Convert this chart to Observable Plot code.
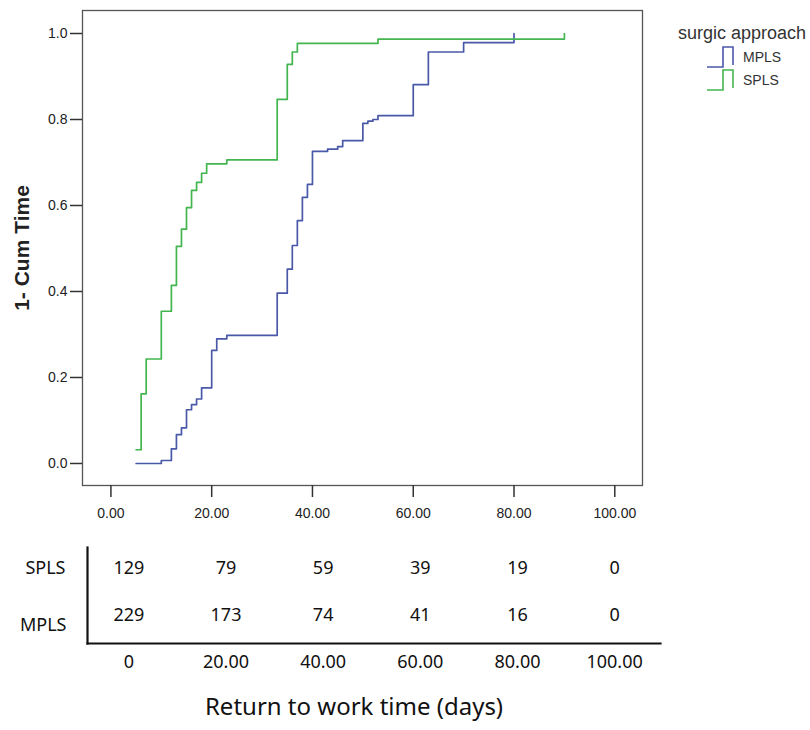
<!DOCTYPE html>
<html>
<head>
<meta charset="utf-8">
<script src="https://cdn.jsdelivr.net/npm/d3@7"></script>
<script src="https://cdn.jsdelivr.net/npm/@observablehq/plot@0.6"></script>
<style>
  body { margin: 0; background: #fff; }
  #wrap { position: relative; width: 810px; height: 730px; }
  #main, #table { display: block; }
  #legend { position: absolute; left: 640px; top: 0px; }
  #title { position: absolute; left: 0; top: 690px; width: 708px; text-align: center; font-family: "Noto Sans", "Open Sans", sans-serif; font-size: 24px; line-height: 32px; color: #111; }
</style>
</head>
<body>
<div id="wrap">
  <div id="main"></div>
  <div id="table"></div>
  <div id="legend"></div>
  <div id="title"></div>
</div>
<script>
// ---- data ----
const groups = ["MPLS", "SPLS"];
const colors = ["#4a58a8", "#43b54f"];

const mplsTime  = [5, 10, 12, 13, 14, 15, 16, 17, 18, 20, 21, 23, 33, 35, 36, 37, 38, 39, 40, 43, 45, 46, 50, 51, 52, 53, 60, 63, 70, 80];
const mplsValue = [0.0, 0.007, 0.034, 0.067, 0.083, 0.125, 0.137, 0.150, 0.176, 0.263, 0.290, 0.298, 0.396, 0.452, 0.507, 0.565, 0.619, 0.649, 0.726, 0.731, 0.737, 0.751, 0.791, 0.796, 0.800, 0.809, 0.881, 0.957, 0.979, 1.0];

const splsTime  = [5, 6, 7, 10, 12, 13, 14, 15, 16, 17, 18, 19, 23, 33, 35, 36, 37, 53, 90];
const splsValue = [0.032, 0.162, 0.243, 0.354, 0.414, 0.505, 0.545, 0.595, 0.635, 0.654, 0.675, 0.697, 0.706, 0.847, 0.928, 0.957, 0.977, 0.987, 0.987];

const censorGroup = ["SPLS"];
const censorTime  = [90];
const censorValue = [0.987];

const xTicks = [0, 20, 40, 60, 80, 100];
const yTicks = [0, 0.2, 0.4, 0.6, 0.8, 1.0];

const riskRowsOrder = ["SPLS", "MPLS"];
const riskTimes = [0, 20, 40, 60, 80, 100];
const splsRisk = [129, 79, 59, 39, 19, 0];
const mplsRisk = [229, 173, 74, 41, 16, 0];

const yTitle = "1- Cum Time";
const xTitle = "Return to work time (days)";
const legendTitle = "surgic approach";

// ---- build tables ----
const curves = [
  ...mplsTime.map((t, i) => ({group: "MPLS", time: t, value: mplsValue[i]})),
  ...splsTime.map((t, i) => ({group: "SPLS", time: t, value: splsValue[i]}))
];
const censors = censorTime.map((t, i) => ({group: censorGroup[i], time: t, value: censorValue[i]}));
const risk = [
  ...riskTimes.map((t, i) => ({group: "SPLS", time: t, n: splsRisk[i]})),
  ...riskTimes.map((t, i) => ({group: "MPLS", time: t, n: mplsRisk[i]}))
];

const main = Plot.plot({
  width: 810, height: 540,
  marginLeft: 82, marginRight: 168, marginTop: 10, marginBottom: 55,
  x: {domain: [-5.64, 105.5]},
  y: {domain: [-0.0512, 1.0535]},
  color: {domain: groups, range: colors},
  style: {fontFamily: "'Liberation Sans', Arial, sans-serif", fontSize: "14px", color: "#222", background: "#fff"},
  marks: [
    Plot.frame({stroke: "#555", strokeWidth: 1.3}),
    Plot.axisX({ticks: xTicks, tickSize: 12, tickPadding: 11, tickFormat: d => d.toFixed(2), label: null, stroke: "#333", strokeWidth: 1.5, fontSize: 14}),
    Plot.axisY({ticks: yTicks, tickSize: 12, tickPadding: 3, tickFormat: d => d.toFixed(1), label: null, stroke: "#333", strokeWidth: 1.5, fontSize: 14}),
    Plot.line(curves, {x: "time", y: "value", z: "group", stroke: "group", curve: "step-after", strokeWidth: 1.7}),
    Plot.ruleX(censors, {x: "time", y1: "value", y2: d => d.value + 0.013, stroke: "group", strokeWidth: 1.7}),
    Plot.text([yTitle], {frameAnchor: "left", textAnchor: "middle", rotate: -90, dx: -60, fontWeight: "bold", fontSize: 21, fill: "#222"})
  ]
});
document.getElementById("main").appendChild(main);

const table = Plot.plot({
  width: 810, height: 150,
  marginLeft: 87, marginRight: 150, marginTop: 7, marginBottom: 47,
  x: {domain: [-8.51, 109.44]},
  y: {type: "point", domain: riskRowsOrder, range: [27.8, 75], padding: 0, axis: null},
  style: {fontFamily: "'Noto Sans', 'Open Sans', sans-serif", fontSize: "18px", color: "#111", background: "#fff"},
  marks: [
    Plot.frame({anchor: "left", stroke: "#111", strokeWidth: 2.2}),
    Plot.frame({anchor: "bottom", stroke: "#111", strokeWidth: 2.2}),
    Plot.text(risk, {x: "time", y: "group", text: "n", fontSize: 18, fill: "#111"}),
    Plot.text(["SPLS"], {y: d => d, text: d => d, frameAnchor: "left", dx: -22, textAnchor: "end", fontSize: 18, fill: "#111"}),
    Plot.text(["MPLS"], {y: d => d, text: d => d, frameAnchor: "left", dx: -21, dy: 10, textAnchor: "end", fontSize: 18, fill: "#111"}),
    Plot.axisX({ticks: xTicks, tickSize: 0, tickPadding: 12, tickFormat: d => d === 0 ? "0" : d.toFixed(2), label: null, fontSize: 18})
  ]
});
document.getElementById("table").appendChild(table);

// legend (SVG overlay in the right margin)
const ns = "http://www.w3.org/2000/svg";
const lg = document.createElementNS(ns, "svg");
lg.setAttribute("width", 170); lg.setAttribute("height", 100);
lg.style.fontFamily = "'Liberation Sans', Arial, sans-serif";
const lt = document.createElementNS(ns, "text");
lt.setAttribute("x", 38); lt.setAttribute("y", 39); lt.setAttribute("font-size", 18); lt.setAttribute("fill", "#333");
lt.textContent = legendTitle;
lg.appendChild(lt);
groups.forEach((g, i) => {
  const y0 = 67 + i * 23;
  const p = document.createElementNS(ns, "path");
  p.setAttribute("d", `M67,${y0} H83 V${y0 - 20} H93 V${y0 - 2}`);
  p.setAttribute("fill", "none"); p.setAttribute("stroke", colors[i]); p.setAttribute("stroke-width", 1.6);
  lg.appendChild(p);
  const tx = document.createElementNS(ns, "text");
  tx.setAttribute("x", 103); tx.setAttribute("y", y0 - 5); tx.setAttribute("font-size", 14); tx.setAttribute("fill", "#333");
  tx.textContent = g;
  lg.appendChild(tx);
});
document.getElementById("legend").appendChild(lg);
document.getElementById("title").textContent = xTitle;
</script>
</body>
</html>
